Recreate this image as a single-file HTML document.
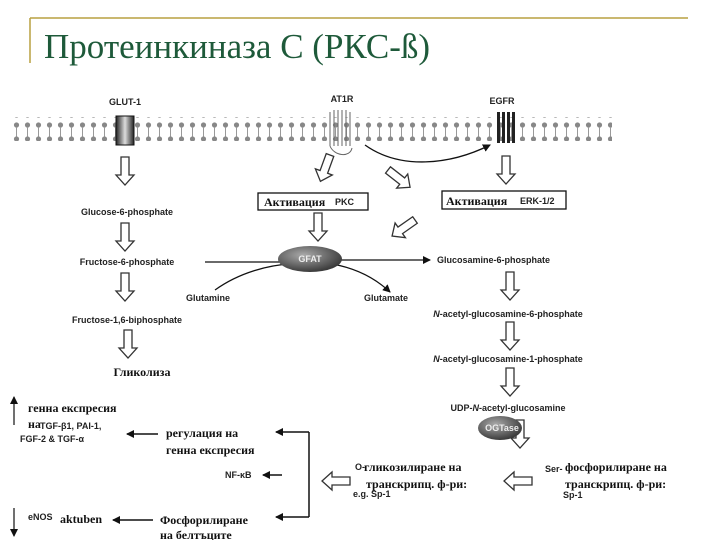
<!DOCTYPE html>
<html><head><meta charset="utf-8"><style>
html,body{margin:0;padding:0;background:#fff;width:720px;height:540px;overflow:hidden}
svg{display:block}
.s{font-family:"Liberation Sans",sans-serif;font-weight:bold;font-size:9px;fill:#222}
.r{font-family:"Liberation Serif","Noto Serif CJK SC",serif;font-weight:bold;font-size:12px;fill:#111}
</style></head><body>
<svg width="720" height="540" viewBox="0 0 720 540">
<defs>
<marker id="ah" markerWidth="8" markerHeight="8" refX="7" refY="4" orient="auto" markerUnits="userSpaceOnUse"><path d="M0,0 L8,4 L0,8 Z" fill="#111"/></marker>
<g id="da"><path d="M-4,0 H4 V18 H9 L0,28 L-9,18 H-4 Z" fill="#fff" stroke="#333" stroke-width="1.3"/></g>
<linearGradient id="gb" x1="0" x2="1"><stop offset="0" stop-color="#222"/><stop offset="0.5" stop-color="#ddd"/><stop offset="1" stop-color="#222"/></linearGradient>
<radialGradient id="eg" cx="0.4" cy="0.35" r="0.7"><stop offset="0" stop-color="#aaa"/><stop offset="1" stop-color="#333"/></radialGradient>
<pattern id="lip" width="11" height="24" patternUnits="userSpaceOnUse"><circle cx="5.5" cy="5" r="2.6" fill="#888"/><line x1="5.5" y1="7" x2="5.5" y2="17" stroke="#999" stroke-width="1"/><circle cx="5.5" cy="19" r="2.6" fill="#888"/></pattern>
</defs>
<line x1="30" y1="18" x2="688" y2="18" stroke="#b8a040" stroke-width="1.5"/>
<line x1="30" y1="18" x2="30" y2="63" stroke="#b8a040" stroke-width="1.5"/>
<text x="44" y="58" font-family="Liberation Serif,serif" font-size="35" fill="#1e5a3a">Протеинкиназа С (РКС-ß)</text>

<rect x="12" y="117" width="600" height="24" fill="url(#lip)"/>
<text class="s" x="125" y="105" text-anchor="middle">GLUT-1</text>
<rect x="116" y="116" width="18" height="29" fill="url(#gb)" stroke="#111"/>
<text class="s" x="342" y="102" text-anchor="middle">AT1R</text>
<g stroke="#666" fill="none" stroke-width="1"><path d="M330,112 V146 M334,110 V146 M338,110 V146 M342,110 V146 M346,110 V146 M350,112 V146"/><path d="M330,146 C334,156 350,158 352,148"/></g>
<text class="s" x="502" y="104" text-anchor="middle">EGFR</text>
<g fill="#222"><rect x="497" y="112" width="3" height="31"/><rect x="502" y="112" width="3" height="31"/><rect x="507" y="112" width="3" height="31"/><rect x="512" y="112" width="3" height="31"/></g>
<path d="M365,145 C400,170 450,165 490,145" fill="none" stroke="#111" stroke-width="1.3" marker-end="url(#ah)"/>

<use href="#da" x="125" y="157"/>
<text class="s" x="127" y="215" text-anchor="middle">Glucose-6-phosphate</text>
<use href="#da" x="125" y="223"/>
<text class="s" x="127" y="265" text-anchor="middle">Fructose-6-phosphate</text>
<use href="#da" x="125" y="273"/>
<text class="s" x="127" y="323" text-anchor="middle">Fructose-1,6-biphosphate</text>
<use href="#da" x="128" y="330"/>
<text class="r" x="142" y="376" text-anchor="middle">Гликолиза</text>

<use href="#da" transform="translate(330,155) rotate(20)"/>
<rect x="258" y="193" width="110" height="17" fill="#fff" stroke="#111" stroke-width="1.3"/>
<text class="r" x="264" y="206">Активация</text><text class="s" x="335" y="205">PKC</text>
<use href="#da" x="318" y="213"/>
<use href="#da" transform="translate(388,170) rotate(-52)"/>
<use href="#da" transform="translate(415,220) rotate(55)"/>
<line x1="205" y1="262" x2="290" y2="262" stroke="#111" stroke-width="1.2"/>
<line x1="330" y1="260" x2="430" y2="260" stroke="#111" stroke-width="1.2" marker-end="url(#ah)"/>
<path d="M215,290 C240,272 270,265 290,264" fill="none" stroke="#111" stroke-width="1.2"/>
<path d="M332,264 C355,268 375,278 390,292" fill="none" stroke="#111" stroke-width="1.2" marker-end="url(#ah)"/>
<ellipse cx="310" cy="259" rx="32" ry="13" fill="url(#eg)"/>
<text class="s" x="310" y="262" text-anchor="middle" style="fill:#eee">GFAT</text>
<text class="s" x="186" y="301">Glutamine</text>
<text class="s" x="364" y="301">Glutamate</text>

<use href="#da" x="506" y="156"/>
<rect x="442" y="191" width="124" height="18" fill="#fff" stroke="#111" stroke-width="1.3"/>
<text class="r" x="446" y="205">Активация</text><text class="s" x="520" y="204">ERK-1/2</text>
<text class="s" x="437" y="263">Glucosamine-6-phosphate</text>
<use href="#da" x="510" y="272"/>
<text class="s" x="508" y="317" text-anchor="middle"><tspan font-style="italic">N</tspan>-acetyl-glucosamine-6-phosphate</text>
<use href="#da" x="510" y="322"/>
<text class="s" x="508" y="362" text-anchor="middle"><tspan font-style="italic">N</tspan>-acetyl-glucosamine-1-phosphate</text>
<use href="#da" x="510" y="368"/>
<text class="s" x="508" y="411" text-anchor="middle" font-size="8">UDP-<tspan font-style="italic">N</tspan>-acetyl-glucosamine</text>
<use href="#da" x="520" y="420"/>
<ellipse cx="500" cy="428" rx="22" ry="12" fill="url(#eg)"/>
<text class="s" x="502" y="431" text-anchor="middle" style="fill:#eee">OGTase</text>

<text class="s" x="545" y="472" font-size="8">Ser-</text><text class="r" x="565" y="471">фосфорилиране на</text>
<text class="r" x="565" y="488">транскрипц. ф-ри:</text>
<text class="s" x="563" y="498" font-size="8">Sp-1</text>
<use href="#da" transform="translate(532,481) rotate(90)"/>
<text class="s" x="355" y="470" font-size="8">O-</text><text class="r" x="364" y="471">гликозилиране на</text>
<text class="r" x="366" y="488">транскрипц. ф-ри:</text>
<text class="s" x="353" y="497" font-size="8">e.g. Sp-1</text>
<use href="#da" transform="translate(350,481) rotate(90)"/>
<line x1="309" y1="432" x2="309" y2="517" stroke="#111" stroke-width="1.5"/>
<line x1="309" y1="432" x2="276" y2="432" stroke="#111" stroke-width="1.5" marker-end="url(#ah)"/>
<line x1="309" y1="517" x2="276" y2="517" stroke="#111" stroke-width="1.5" marker-end="url(#ah)"/>
<line x1="282" y1="475" x2="263" y2="475" stroke="#111" stroke-width="1.5" marker-end="url(#ah)"/>
<text class="r" x="166" y="437">регулация на</text>
<text class="r" x="166" y="454">генна експресия</text>
<line x1="158" y1="434" x2="127" y2="434" stroke="#111" stroke-width="1.5" marker-end="url(#ah)"/>
<text class="s" x="225" y="478" font-size="8">NF-κB</text>
<text class="r" x="160" y="524" font-size="13">Фосфорилиране</text>
<text class="r" x="160" y="539">на белтъците</text>
<line x1="153" y1="520" x2="113" y2="520" stroke="#111" stroke-width="1.5" marker-end="url(#ah)"/>
<text class="s" x="28" y="520" font-size="7">eNOS</text><text class="r" x="60" y="523">aktuben</text>
<line x1="14" y1="425" x2="14" y2="397" stroke="#111" stroke-width="1.2" marker-end="url(#ah)"/>
<text class="r" x="28" y="412">генна експресия</text>
<text class="r" x="28" y="428">на</text><text class="s" x="40" y="429" font-size="8">TGF-β1, PAI-1,</text>
<text class="s" x="20" y="442" font-size="8">FGF-2 &amp; TGF-α</text>
<line x1="14" y1="508" x2="14" y2="536" stroke="#111" stroke-width="1.2" marker-end="url(#ah)"/>
</svg>
</body></html>
